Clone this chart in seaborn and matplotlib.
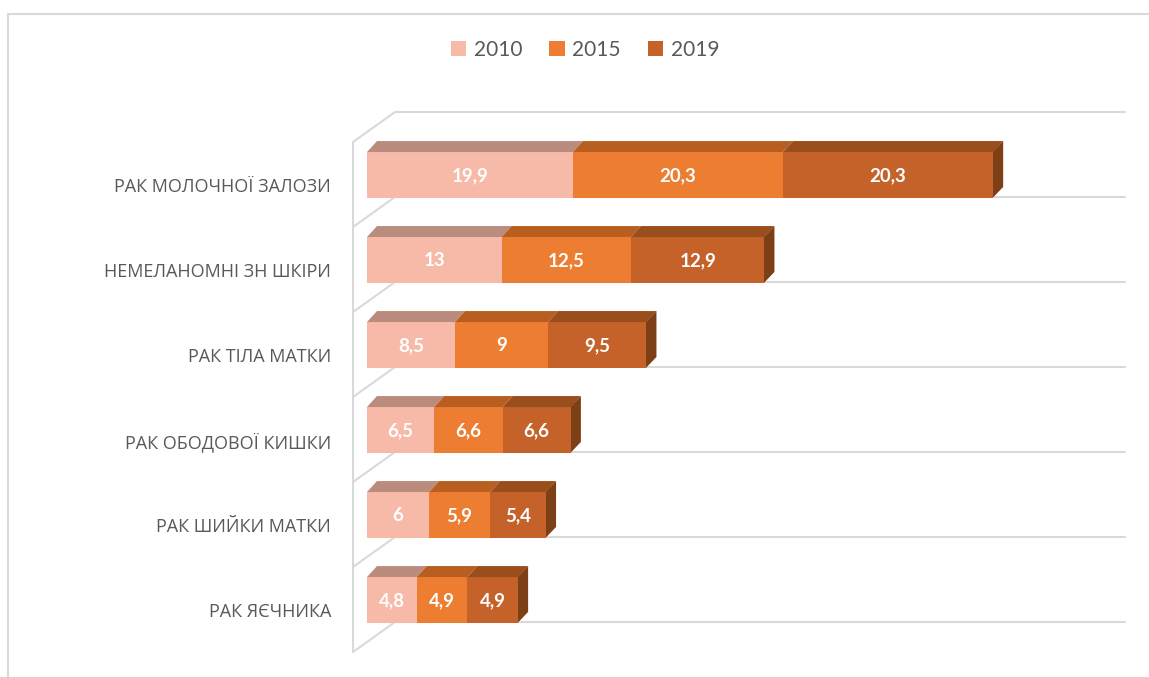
import numpy as np
import pandas as pd
import matplotlib.pyplot as plt
import seaborn as sns
from matplotlib.patches import Polygon, Patch
from matplotlib.lines import Line2D
from matplotlib.transforms import ScaledTranslation

categories = [
    "РАК МОЛОЧНОЇ ЗАЛОЗИ", "НЕМЕЛАНОМНІ ЗН ШКІРИ", "РАК ТІЛА МАТКИ",
    "РАК ОБОДОВОЇ КИШКИ", "РАК ШИЙКИ МАТКИ", "РАК ЯЄЧНИКА",
]
years = ["2010", "2015", "2019"]
v2010 = [19.9, 13, 8.5, 6.5, 6, 4.8]
v2015 = [20.3, 12.5, 9, 6.6, 5.9, 4.9]
v2019 = [20.3, 12.9, 9.5, 6.6, 5.4, 4.9]

front = ["#F8BAA8", "#ED7D31", "#C4622A"]
top = ["#BA8C7D", "#B85E20", "#9A4E1C"]
side = "#7D3F16"
grid_c = "#D9D9D9"
text_c = "#595959"

sns.set_theme(style="white")
plt.rcParams["font.family"] = ["Open Sans", "DejaVu Sans"]

W, H = 1149, 677
fig = plt.figure(figsize=(W / 100, H / 100), dpi=100)
ax = fig.add_axes([367 / W, 1 - 660 / H, (1125 - 367) / W, 560 / H])

df = pd.DataFrame({"cat": categories, "2010": v2010, "2015": v2015, "2019": v2019})
df["c1"] = df["2010"]
df["c2"] = df["2010"] + df["2015"]
df["c3"] = df["c2"] + df["2019"]

bw = 0.54
# stacked front faces: draw the totals first, then the shorter sums on top
for col, c in zip(["c3", "c2", "c1"], front[::-1]):
    sns.barplot(data=df, x=col, y="cat", orient="h", color=c, saturation=1,
                width=bw, errorbar=None, ax=ax, zorder=2, linewidth=0, edgecolor="none")

px = 1 / 10.35          # value units per pixel
xmax = (1125 - 367) * px
ax.set_xlim(0, xmax)
ax.set_ylim(5 + 60 / 85, -75 / 85)

# 3d depth of the bars
ddx, ddy = 10 * px, 11 / 85
vals = [v2010, v2015, v2019]
for r in range(len(df)):
    lefts = [0, df["c1"][r], df["c2"][r]]
    rights = [df["c1"][r], df["c2"][r], df["c3"][r]]
    yt, yb = r - bw / 2, r + bw / 2
    for k in range(3):
        l, rr = lefts[k], rights[k]
        ax.add_patch(Polygon([(l, yt), (rr, yt), (rr + ddx, yt - ddy), (l + ddx, yt - ddy)],
                             closed=True, facecolor=top[k], edgecolor="none", zorder=3))
        ax.text((l + rr) / 2, r + 0.01, f"{vals[k][r]:g}".replace(".", ","),
                ha="center", va="center", color="white", fontsize=13.5,
                fontweight="bold", family=["Lato", "DejaVu Sans"], zorder=5)
    e = rights[-1]
    ax.add_patch(Polygon([(e - 0.05, yt), (e + ddx, yt - ddy), (e + ddx, yb - ddy), (e - 0.05, yb)],
                         closed=True, facecolor=side, edgecolor="none", zorder=1.9))

# back gridlines and the left wall
wall_x = -14 * px
back_x = 28 * px
dy_wall = 30 / 85
for k in range(len(df) + 1):
    yk = k - 63 / 85
    ax.plot([back_x, xmax], [yk, yk], color=grid_c, lw=1.5, zorder=0.5, clip_on=False)
    ax.plot([wall_x, back_x], [yk + dy_wall, yk], color=grid_c, lw=1.5, zorder=0.5, clip_on=False)
ax.plot([wall_x, wall_x], [-63 / 85 + dy_wall, len(df) - 63 / 85 + dy_wall],
        color=grid_c, lw=1.5, zorder=0.5, clip_on=False)

sns.despine(ax=ax, left=True, bottom=True)
ax.set_xlabel("")
ax.set_ylabel("")
ax.set_xticks([])
ax.tick_params(axis="y", length=0, pad=26, labelsize=13, labelcolor=text_c)
shift = ScaledTranslation(0, -0.1, fig.dpi_scale_trans)
for lab in ax.get_yticklabels():
    lab.set_transform(lab.get_transform() + shift)

handles = [Patch(facecolor=c, edgecolor="none") for c in front]
fig.legend(handles, years, loc="center", bbox_to_anchor=(585 / W, 1 - 50 / H), ncol=3,
           frameon=False, handlelength=0.75, handleheight=0.75, handletextpad=0.35,
           columnspacing=1.3, prop={"family": ["Lato", "DejaVu Sans"], "size": 15},
           labelcolor=text_c)

# outer chart frame
fig.add_artist(Line2D([8 / W, 8 / W], [0, 1 - 14 / H], color=grid_c, lw=1.5,
                      transform=fig.transFigure))
fig.add_artist(Line2D([8 / W, 1], [1 - 14 / H, 1 - 14 / H], color=grid_c, lw=1.5,
                      transform=fig.transFigure))

fig.savefig("out.png", dpi=100, facecolor="white")
